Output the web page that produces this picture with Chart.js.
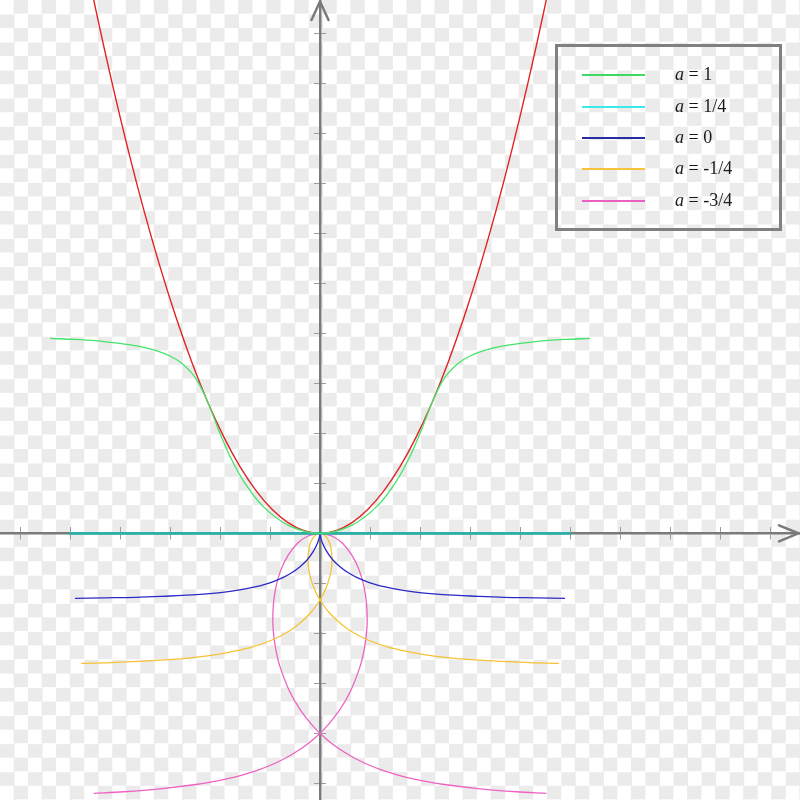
<!DOCTYPE html>
<html>
<head>
<meta charset="utf-8">
<script src="https://cdn.jsdelivr.net/npm/chart.js@4/dist/chart.umd.min.js"></script>
<style>
  html, body { margin: 0; padding: 0; }
  #wrap {
    position: relative; width: 800px; height: 800px; overflow: hidden;
    background: repeating-conic-gradient(#ebebeb 0% 25%, #ffffff 0% 50%) 0 0 / 28.07px 28.07px;
  }
  #c { position: absolute; left: 0; top: 0; }
  #legendBox {
    position: absolute; left: 555px; top: 44px; width: 227px; height: 187px;
    border: 3px solid #808080; box-sizing: border-box;
  }
  .lline { position: absolute; left: 582px; width: 63px; height: 2px; }
  .ltext {
    position: absolute; left: 675px; font-family: "Liberation Serif", "DejaVu Serif", serif;
    font-size: 18px; line-height: 18px; color: #1a1a1a; white-space: nowrap;
  }
</style>
</head>
<body>
<div id="wrap">
  <canvas id="c" width="800" height="800"></canvas>
  <div id="legendBox"></div>
  <div id="legendItems"></div>
</div>
<script>
// ---- tick positions (no labels in the reference) ----
const xTicks = [-1.875, -1.5625, -1.25, -0.9375, -0.625, -0.3125, 0.3125, 0.625, 0.9375, 1.25, 1.5625, 1.875, 2.1875, 2.5, 2.8125];
const yTicks = [-0.9375, -0.75, -0.5625, -0.375, -0.1875, 0.1875, 0.375, 0.5625, 0.75, 0.9375, 1.125, 1.3125, 1.5, 1.6875, 1.875];

// ---- series ----
const legendLabels = ["1", "1/4", "0", "-1/4", "-3/4"];

const redX = [-1.5, -1.4, -1.3, -1.2, -1.1, -1.0, -0.9, -0.8, -0.7, -0.6, -0.5, -0.4, -0.3, -0.2, -0.1, 0, 0.1, 0.2, 0.3, 0.4, 0.5, 0.6, 0.7, 0.8, 0.9, 1.0, 1.1, 1.2, 1.3, 1.4, 1.5];
const redY = [2.25, 1.96, 1.69, 1.44, 1.21, 1.0, 0.81, 0.64, 0.49, 0.36, 0.25, 0.16, 0.09, 0.04, 0.01, 0, 0.01, 0.04, 0.09, 0.16, 0.25, 0.36, 0.49, 0.64, 0.81, 1.0, 1.21, 1.44, 1.69, 1.96, 2.25];

const greenX = [-1.687, -1.530, -1.350, -1.176, -1.093, -1.014, -0.938, -0.866, -0.800, -0.768, -0.737, -0.705, -0.669, -0.625, -0.566, -0.481, -0.359, -0.194, 0, 0.194, 0.359, 0.481, 0.566, 0.625, 0.669, 0.705, 0.737, 0.768, 0.800, 0.866, 0.938, 1.014, 1.093, 1.176, 1.350, 1.530, 1.687];
const greenY = [0.731, 0.727, 0.719, 0.706, 0.696, 0.683, 0.665, 0.639, 0.600, 0.573, 0.539, 0.497, 0.443, 0.375, 0.293, 0.199, 0.103, 0.029, 0, 0.029, 0.103, 0.199, 0.293, 0.375, 0.443, 0.497, 0.539, 0.573, 0.600, 0.639, 0.665, 0.683, 0.696, 0.706, 0.719, 0.727, 0.731];

const cyanX = [-1.571, 1.571];
const cyanY = [0, 0];

const blueX = [-1.531, -1.357, -1.150, -0.941, -0.836, -0.729, -0.621, -0.511, -0.400, -0.344, -0.288, -0.232, -0.177, -0.125, -0.078, -0.040, -0.014, -0.002, 0, 0.002, 0.014, 0.040, 0.078, 0.125, 0.177, 0.232, 0.288, 0.344, 0.400, 0.511, 0.621, 0.729, 0.836, 0.941, 1.150, 1.357, 1.531];
const blueY = [-0.244, -0.242, -0.240, -0.235, -0.232, -0.228, -0.222, -0.213, -0.200, -0.191, -0.180, -0.166, -0.148, -0.125, -0.098, -0.066, -0.034, -0.010, 0, -0.010, -0.034, -0.066, -0.098, -0.125, -0.148, -0.166, -0.180, -0.191, -0.200, -0.213, -0.222, -0.228, -0.232, -0.235, -0.240, -0.242, -0.244];

const yellowX = [-1.492, -1.313, -1.100, -0.882, -0.771, -0.658, -0.542, -0.422, -0.300, -0.238, -0.175, -0.114, -0.054, 0.000, 0.024, 0.044, 0.060, 0.071, 0.075, 0.072, 0.063, 0.046, 0.025, 0, -0.025, -0.046, -0.063, -0.072, -0.075, -0.071, -0.060, -0.044, -0.024, 0.000, 0.054, 0.114, 0.175, 0.238, 0.300, 0.422, 0.542, 0.658, 0.771, 0.882, 1.100, 1.313, 1.492];
const yellowY = [-0.488, -0.485, -0.479, -0.471, -0.464, -0.456, -0.443, -0.426, -0.400, -0.382, -0.360, -0.331, -0.295, -0.250, -0.224, -0.195, -0.164, -0.132, -0.100, -0.069, -0.041, -0.019, -0.005, 0, -0.005, -0.019, -0.041, -0.069, -0.100, -0.132, -0.164, -0.195, -0.224, -0.250, -0.295, -0.331, -0.360, -0.382, -0.400, -0.426, -0.443, -0.456, -0.464, -0.471, -0.479, -0.485, -0.488];

const pinkX = [-1.415, -1.227, -1.000, -0.765, -0.642, -0.515, -0.383, -0.245, -0.100, -0.025, 0.049, 0.123, 0.192, 0.250, 0.272, 0.288, 0.295, 0.291, 0.275, 0.245, 0.200, 0.142, 0.074, 0, -0.074, -0.142, -0.200, -0.245, -0.275, -0.291, -0.295, -0.288, -0.272, -0.250, -0.192, -0.123, -0.049, 0.025, 0.100, 0.245, 0.383, 0.515, 0.642, 0.765, 1.000, 1.227, 1.415];
const pinkY = [-0.975, -0.969, -0.958, -0.941, -0.928, -0.911, -0.887, -0.852, -0.800, -0.764, -0.719, -0.662, -0.590, -0.500, -0.448, -0.390, -0.329, -0.265, -0.200, -0.138, -0.083, -0.038, -0.010, 0, -0.010, -0.038, -0.083, -0.138, -0.200, -0.265, -0.329, -0.390, -0.448, -0.500, -0.590, -0.662, -0.719, -0.764, -0.800, -0.852, -0.887, -0.911, -0.928, -0.941, -0.958, -0.969, -0.975];

// ---- styling ----
const AXIS_COLOR = '#7a7a7a';
const TICK_COLOR = '#9c9c9c';
const curveColors = { red: '#e02424', green: '#44e36a', cyan: '#2eb0aa', blue: '#2a2ac8', yellow: '#f6c234', pink: '#ee62c2' };
const legendColors = ['#3fd862', '#3ee8e8', '#2a2aa6', '#f8c23a', '#ec5fc0'];

function pts(xs, ys) { return xs.map((x, i) => ({ x: x, y: ys[i] })); }
function ds(label, xs, ys, color, width) {
  return { label: label, data: pts(xs, ys), borderColor: color, backgroundColor: color, borderWidth: width,
           showLine: true, pointRadius: 0, pointHoverRadius: 0, tension: 0.35, fill: false };
}

// ---- legend (HTML, real text) ----
(function buildLegend() {
  const centers = [75, 106.5, 137.5, 169, 200.5];
  const host = document.getElementById('legendItems');
  legendLabels.forEach((lab, i) => {
    const ln = document.createElement('div');
    ln.className = 'lline';
    ln.style.top = (centers[i] - 1) + 'px';
    ln.style.background = legendColors[i];
    host.appendChild(ln);
    const tx = document.createElement('div');
    tx.className = 'ltext';
    tx.style.top = (centers[i] - 10) + 'px';
    tx.innerHTML = '<i>a</i> = ' + lab;
    host.appendChild(tx);
  });
})();

const arrowPlugin = {
  id: 'arrows',
  afterDraw(chart) {
    const { ctx, chartArea, scales } = chart;
    const x0 = scales.x.getPixelForValue(0);
    const y0 = scales.y.getPixelForValue(0);
    ctx.save();
    ctx.strokeStyle = AXIS_COLOR;
    ctx.lineWidth = 2.5;
    ctx.lineCap = 'round';
    ctx.beginPath();
    ctx.moveTo(x0 - 8.5, chartArea.top + 20);
    ctx.lineTo(x0, chartArea.top + 1.5);
    ctx.lineTo(x0 + 8.5, chartArea.top + 20);
    ctx.moveTo(chartArea.right - 21, y0 - 8);
    ctx.lineTo(chartArea.right - 1.5, y0);
    ctx.lineTo(chartArea.right - 21, y0 + 8);
    ctx.stroke();
    ctx.restore();
  }
};

function axisCfg(min, max, ticksArr, pos, horiz, tickLen, showBorder) {
  return {
    type: 'linear', min: min, max: max, position: pos,
    border: { display: showBorder, color: AXIS_COLOR, width: 2.5 },
    grid: { display: true, drawOnChartArea: false, drawTicks: true, tickLength: tickLen, color: TICK_COLOR, lineWidth: 1 },
    ticks: { display: false },
    afterBuildTicks: (s) => { s.ticks = ticksArr.map(v => ({ value: v })); },
    afterFit: (s) => { if (horiz) { s.height = 0; } else { s.width = 0; } }
  };
}

new Chart(document.getElementById('c'), {
  type: 'scatter',
  data: {
    datasets: [
      ds('a = 1', greenX, greenY, curveColors.green, 1.3),
      ds('a = 1/4', cyanX, cyanY, curveColors.cyan, 2.6),
      ds('a = 0', blueX, blueY, curveColors.blue, 1.3),
      ds('a = -1/4', yellowX, yellowY, curveColors.yellow, 1.3),
      ds('a = -3/4', pinkX, pinkY, curveColors.pink, 1.3),
      ds('parabola', redX, redY, curveColors.red, 1.4)
    ]
  },
  options: {
    responsive: false,
    animation: false,
    devicePixelRatio: 1,
    layout: { padding: 0 },
    plugins: { legend: { display: false }, tooltip: { enabled: false } },
    events: [],
    scales: {
      x: axisCfg(-2, 3, xTicks, { y: 0 }, true, 5, true),
      x2: axisCfg(-2, 3, xTicks, { y: 0 }, true, -6, false),
      y: axisCfg(-1, 2, yTicks, { x: 0 }, false, 5, true),
      y2: axisCfg(-1, 2, yTicks, { x: 0 }, false, -6, false)
    }
  },
  plugins: [arrowPlugin]
});
</script>
</body>
</html>
